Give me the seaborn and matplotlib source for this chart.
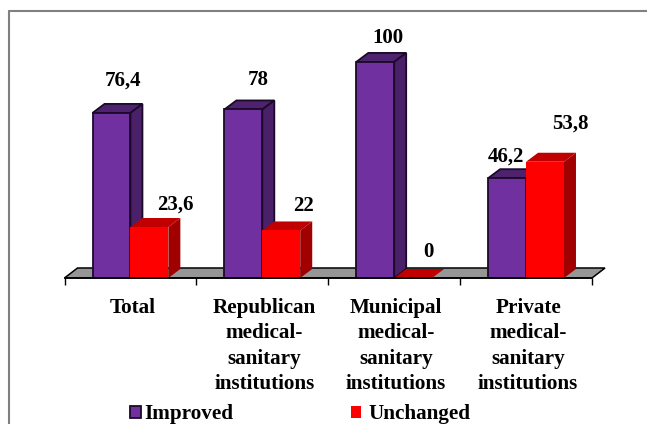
import matplotlib
matplotlib.use("Agg")
import matplotlib.pyplot as plt
import pandas as pd
import seaborn as sns
from matplotlib.lines import Line2D
from matplotlib.patches import Polygon, Rectangle

categories = ["Total", "Republican\nmedical-\nsanitary\ninstitutions", "Municipal\nmedical-\nsanitary\ninstitutions", "Private\nmedical-\nsanitary\ninstitutions"]
improved = [76.4, 78, 100, 46.2]
unchanged = [23.6, 22, 0, 53.8]
improved_labels = ["76,4", "78", "100", "46,2"]
unchanged_labels = ["23,6", "22", "0", "53,8"]

# label offsets from the bar top centre, in pixels
improved_offsets = [(12, 32), (15, 29), (13, 24), (-1, 22)]
unchanged_offsets = [(26, 22), (22, 24), (15, 26), (25, 38)]

sns.set_theme(style="white")
plt.rcParams["font.family"] = ["Liberation Serif", "DejaVu Serif"]
plt.rcParams["font.weight"] = "bold"

df = pd.DataFrame({
    "category": categories * 2,
    "value": improved + unchanged,
    "series": ["Improved"] * 4 + ["Unchanged"] * 4,
})

fig = plt.figure(figsize=(6.47, 4.24), dpi=100)
ax = fig.add_axes([64.5 / 647, 146 / 424, 527.5 / 647, 258 / 424])

sns.barplot(data=df, x="category", y="value", hue="series", hue_order=["Improved", "Unchanged"],
            palette={"Improved": "#7030A0", "Unchanged": "#FF0000"}, width=0.575, gap=0, ax=ax,
            legend=False, saturation=1, zorder=3)
ax.set_xlim(-0.5, 3.5)
ax.set_ylim(0, 119.4)
ax.set_xlabel("")
ax.set_ylabel("")
ax.set_yticks([])
for s in ["top", "left", "right"]:
    ax.spines[s].set_visible(False)
ax.spines["bottom"].set_linewidth(1.2)
ax.spines["bottom"].set_color("black")
ax.spines["bottom"].set_zorder(6)
ax.patch.set_alpha(0)

# category separators as ticks
ax.set_xticks([-0.5, 0.5, 1.5, 2.5, 3.5])
ax.set_xticklabels([])
ax.tick_params(axis="x", length=5, width=1, color="black", bottom=True, direction="out")
for i, cat in enumerate(categories):
    ax.annotate(cat, (i, 0), xytext=(2, -20), xycoords=("data", "axes fraction"), textcoords="offset pixels",
                ha="center", va="top", fontsize=15.2, fontweight="bold", color="black", linespacing=1.36)

# depth of the fake 3d in pixels
dx, dy = 12, 9
inv = ax.transData.inverted()


def shifted(x, y, ox, oy):
    a, b = ax.transData.transform((x, y))
    return inv.transform((a + ox, b + oy))


# floor
x0, x1 = ax.get_xlim()
ax.add_patch(Polygon([shifted(x0, 0, 0, 0), shifted(x1, 0, 0, 0), shifted(x1, 0, dx + 1, dy + 1), shifted(x0, 0, dx + 1, dy + 1)],
                     closed=True, facecolor="#969696", edgecolor="black", lw=1.1, zorder=1, clip_on=False))

shades = {"Improved": ("#4F2270", "#4A2068", "#1A0A28", 1.3), "Unchanged": ("#C00000", "#A00000", "#FF0000", 0)}
names = ["Improved"] * 4 + ["Unchanged"] * 4
order = [0, 4, 1, 5, 2, 6, 3, 7]
for z, i in enumerate(order):
    bar = ax.patches[i]
    name = names[i]
    top_c, side_c, edge, lw = shades[name]
    l, r = bar.get_x(), bar.get_x() + bar.get_width()
    h = bar.get_height()
    zo = 3 + z * 0.1
    bar.set_zorder(zo + 0.05)
    if lw:
        bar.set_edgecolor(edge)
        bar.set_linewidth(lw)
    else:
        bar.set_edgecolor("none")
    ax.add_patch(Polygon([(l, h), (r, h), shifted(r, h, dx, dy), shifted(l, h, dx, dy)], closed=True,
                         facecolor=top_c, edgecolor=edge if lw else "none", lw=lw, zorder=zo, clip_on=False))
    ax.add_patch(Polygon([(r, 0), (r, h), shifted(r, h, dx, dy), shifted(r, 0, dx, dy)], closed=True,
                         facecolor=side_c, edgecolor=edge if lw else "none", lw=lw, zorder=zo, clip_on=False))

# value labels
for i in range(4):
    b = ax.patches[i]
    ax.annotate(improved_labels[i], (b.get_x() + b.get_width() / 2, improved[i]), xytext=improved_offsets[i],
                textcoords="offset pixels", ha="center", va="center", fontsize=15, fontweight="bold",
                color="black", zorder=10)
    b = ax.patches[i + 4]
    ax.annotate(unchanged_labels[i], (b.get_x() + b.get_width() / 2, unchanged[i]), xytext=unchanged_offsets[i],
                textcoords="offset pixels", ha="center", va="center", fontsize=15, fontweight="bold",
                color="black", zorder=10)

# legend
fig.text(144 / 647, 1 - 414 / 424, "Improved", fontsize=15.2, fontweight="bold", ha="left", va="center", color="black")
fig.text(368 / 647, 1 - 414 / 424, "Unchanged", fontsize=15.2, fontweight="bold", ha="left", va="center", color="black")
fig.add_artist(Rectangle((129.5 / 647, 1 - 418 / 424), 11 / 647, 12 / 424, transform=fig.transFigure,
                         facecolor="#7030A0", edgecolor="#1A0A28", lw=1.3))
fig.add_artist(Rectangle((351 / 647, 1 - 418 / 424), 10 / 647, 12 / 424, transform=fig.transFigure,
                         facecolor="#FF0000", edgecolor="none"))

# outer frame, open on the right
for xs, ys in [([9, 9], [424, 11]), ([9, 647], [11, 11])]:
    fig.add_artist(Line2D([x / 647 for x in xs], [1 - y / 424 for y in ys], color="#808080", lw=1.5))

fig.savefig("out.png", dpi=100)
